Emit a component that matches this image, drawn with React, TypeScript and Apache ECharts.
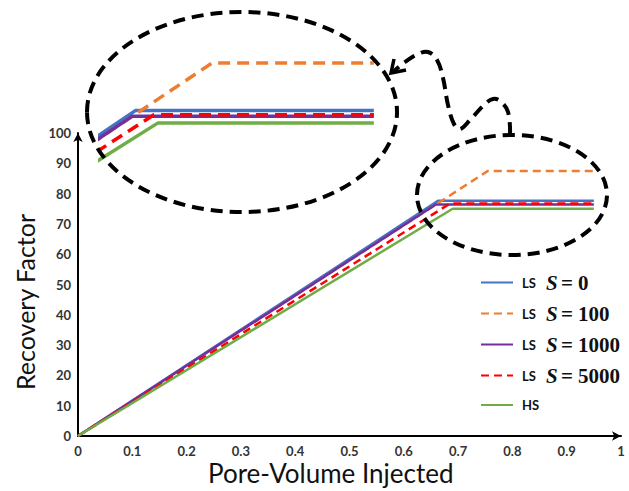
import React, { useEffect, useRef } from "react";
import * as echarts from "echarts";

// Pore-volume injected (x) and recovery factor (y) for each case
const names = ["LS S = 0", "LS S = 100", "LS S = 1000", "LS S = 5000", "HS"];
const pvS0 = [0, 0.663, 0.95];
const rfS0 = [0, 77.6, 77.6];
const pvS100 = [0, 0.755, 0.95];
const rfS100 = [0, 87.5, 87.5];
const pvS1000 = [0, 0.659, 0.95];
const rfS1000 = [0, 76.4, 76.4];
const pvS5000 = [0, 0.685, 0.95];
const rfS5000 = [0, 76.7, 76.7];
const pvHS = [0, 0.69, 0.95];
const rfHS = [0, 75.0, 75.0];

const xTicks = [0, 0.1, 0.2, 0.3, 0.4, 0.5, 0.6, 0.7, 0.8, 0.9, 1];
const yTicks = [0, 10, 20, 30, 40, 50, 60, 70, 80, 90, 100];

const colors = ["#4472C4", "#ED7D31", "#7030A0", "#FF0000", "#70AD47"];
const dashed = [false, true, false, true, false];

const pvs = [pvS0, pvS100, pvS1000, pvS5000, pvHS];
const rfs = [rfS0, rfS100, rfS1000, rfS5000, rfHS];

function pairs(xs: number[], ys: number[]) {
  return xs.map((x, i) => [x, ys[i]]);
}

export default function App() {
  const ref = useRef<HTMLDivElement>(null);
  useEffect(() => {
    if (!ref.current) return;
    const chart = echarts.init(ref.current, null, { renderer: "svg" });

    const mainSeries = names.map((n, i) => ({
      name: n,
      type: "line",
      xAxisIndex: 0,
      yAxisIndex: 0,
      data: pairs(pvs[i], rfs[i]),
      symbol: "none",
      showSymbol: false,
      lineStyle: {
        color: colors[i],
        width: 2.5,
        type: dashed[i] ? [8, 5] : "solid",
      },
      itemStyle: { color: colors[i] },
      z: 2 + i,
    }));
    const insetSeries = names.map((n, i) => ({
      name: "inset " + n,
      type: "line",
      xAxisIndex: 1,
      yAxisIndex: 1,
      data: pairs(pvs[i], rfs[i]),
      symbol: "none",
      showSymbol: false,
      clip: true,
      lineStyle: {
        color: colors[i],
        width: 3.5,
        type: dashed[i] ? [12, 7] : "solid",
      },
      itemStyle: { color: colors[i] },
      z: 2 + i,
    }));

    const tickLabel = {
      fontFamily: "Lato",
      fontWeight: "bold",
      fontSize: 13,
      color: "#333",
    };

    const dashStyle = {
      stroke: "#000",
      fill: "none",
      lineWidth: 4,
      lineDash: [12, 7],
    };

    chart.setOption({
      animation: false,
      backgroundColor: "#fff",
      grid: [
        { left: 78, top: 133, width: 543, height: 303, containLabel: false },
        { left: 100, top: 51, width: 278, height: 115, containLabel: false },
      ],
      xAxis: [
        {
          type: "value",
          gridIndex: 0,
          min: xTicks[0],
          max: xTicks[xTicks.length - 1],
          interval: 0.1,
          splitLine: { show: false },
          axisTick: { show: false },
          axisLine: {
            show: true,
            lineStyle: { color: "#000", width: 2 },
            symbol: ["none", "arrow"],
            symbolSize: [7, 9],
          },
          axisLabel: { ...tickLabel, margin: 8 },
        },
        {
          type: "value",
          gridIndex: 1,
          min: 0.62,
          max: 0.955,
          show: false,
        },
      ],
      yAxis: [
        {
          type: "value",
          gridIndex: 0,
          min: yTicks[0],
          max: yTicks[yTicks.length - 1],
          interval: 10,
          splitLine: { show: false },
          axisTick: { show: false },
          axisLine: {
            show: true,
            lineStyle: { color: "#000", width: 2 },
            symbol: ["none", "arrow"],
            symbolSize: [7, 9],
          },
          axisLabel: { ...tickLabel, margin: 7 },
        },
        {
          type: "value",
          gridIndex: 1,
          min: 66,
          max: 90,
          show: false,
        },
      ],
      legend: {
        data: names,
        orient: "vertical",
        left: 475,
        top: 267,
        itemWidth: 32,
        itemHeight: 14,
        itemGap: 10,
        itemStyle: { opacity: 0 },
        formatter: (name: string) => {
          if (name === "HS") return "{ls|HS}";
          const v = name.split("= ")[1];
          return "{ls|LS}   {s|S} {n|= " + v + "}";
        },
        textStyle: {
          color: "#111",
          padding: [0, 0, 0, 4],
          lineHeight: 18,
          rich: {
            ls: { fontFamily: "Lato", fontWeight: "bold", fontSize: 13, color: "#111", lineHeight: 18 },
            s: {
              fontFamily: "Liberation Serif",
              fontStyle: "italic",
              fontWeight: "bold",
              fontSize: 21,
              color: "#111",
              lineHeight: 18,
            },
            n: {
              fontFamily: "Liberation Serif",
              fontWeight: "bold",
              fontSize: 21,
              color: "#111",
              lineHeight: 18,
            },
          },
        },
      },
      series: [...mainSeries, ...insetSeries],
      graphic: [
        {
          type: "text",
          left: 208,
          top: 460,
          z: 100,
          style: {
            text: "Pore-Volume Injected",
            fontFamily: "Lato",
            fontSize: 26,
            fill: "#111",
          },
        },
        {
          type: "text",
          x: 12,
          y: 390,
          rotation: Math.PI / 2,
          z: 100,
          style: {
            text: "Recovery Factor",
            fontFamily: "Lato",
            fontSize: 25,
            fill: "#111",
            textVerticalAlign: "top",
          },
        },
        {
          type: "ellipse",
          z: 100,
          shape: { cx: 242, cy: 112, rx: 155, ry: 100 },
          style: dashStyle,
        },
        {
          type: "ellipse",
          z: 100,
          shape: { cx: 512, cy: 195, rx: 95, ry: 60 },
          style: dashStyle,
        },
        {
          type: "polyline",
          z: 100,
          shape: {
            smooth: 0.4,
            points: [
              [510, 134],
              [508, 112],
              [500, 101],
              [493, 99],
              [485, 104],
              [470, 120],
              [460, 129],
              [454, 124],
              [448, 105],
              [443, 78],
              [437, 60],
              [428, 52],
              [418, 54],
              [405, 62],
              [393, 72],
            ],
          },
          style: dashStyle,
        },
        {
          type: "polyline",
          z: 100,
          shape: {
            points: [
              [394, 59],
              [391, 73],
              [406, 70],
            ],
          },
          style: { stroke: "#000", fill: "none", lineWidth: 3.5 },
        },
      ],
    });
    return () => chart.dispose();
  }, []);
  return (
    <div
      ref={ref}
      style={{ position: "absolute", left: 0, top: 0, width: 629, height: 491 }}
    />
  );
}
